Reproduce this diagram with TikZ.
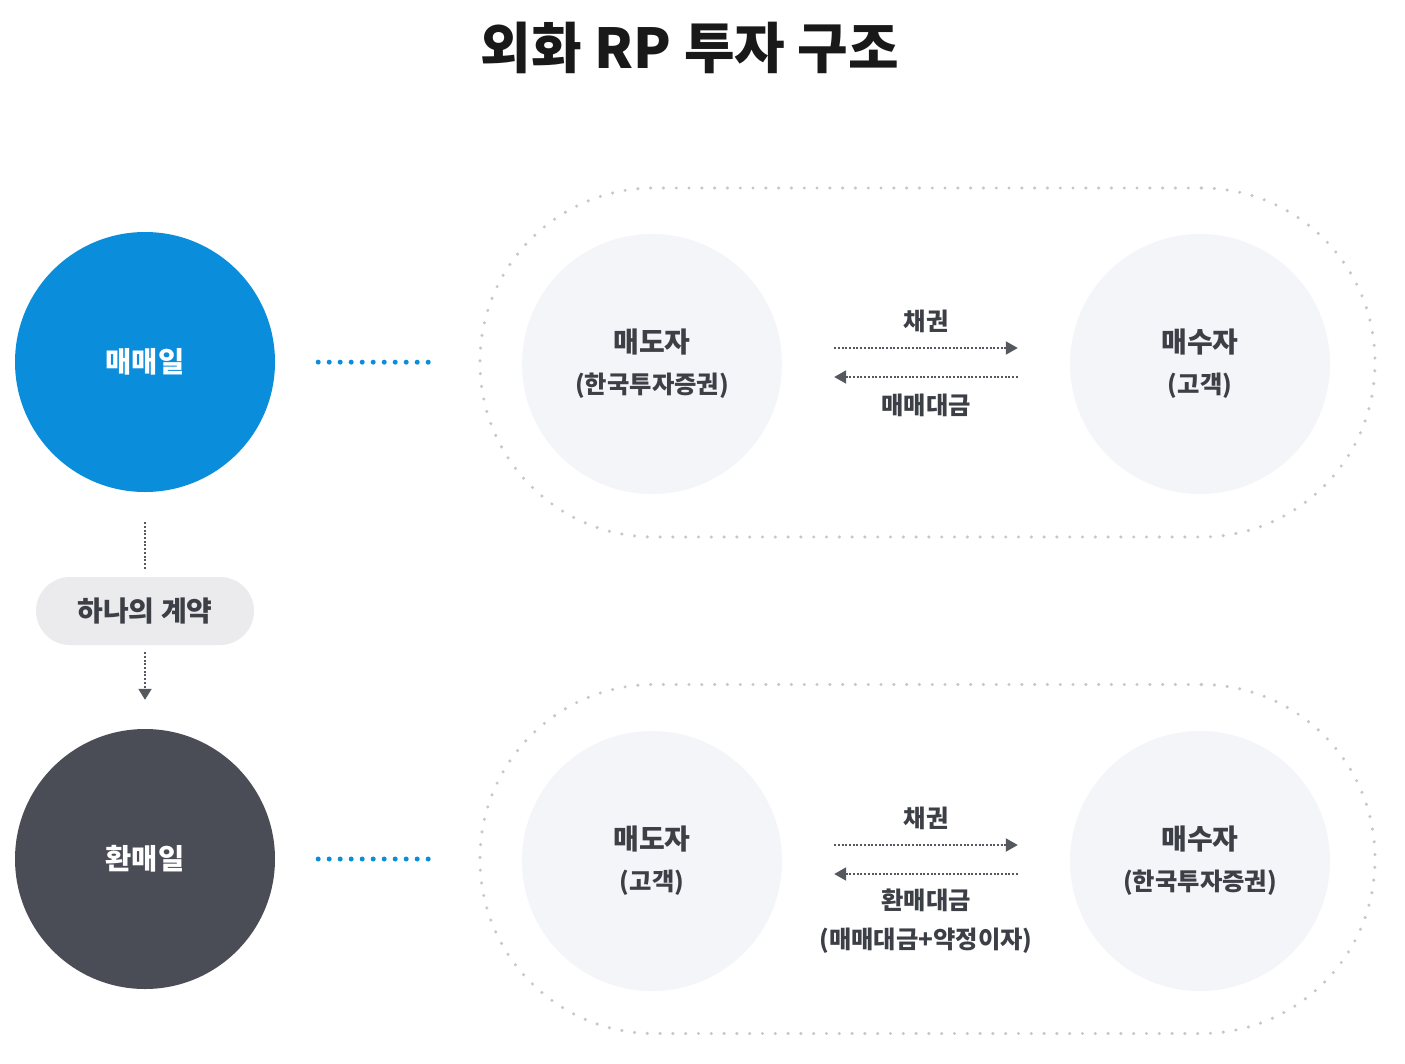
\documentclass[tikz,border=0pt]{standalone}
\usepackage{fontspec}
\setmainfont{Noto Sans CJK KR}
\usetikzlibrary{arrows.meta}

\definecolor{dayblue}{HTML}{0A8EDC}
\definecolor{daydark}{HTML}{4A4D56}
\definecolor{partyfill}{HTML}{F4F5F9}
\definecolor{pillfill}{HTML}{EBEBEE}
\definecolor{inkgray}{HTML}{3D3F46}
\definecolor{dotgray}{HTML}{C6C7CB}
\definecolor{flowgray}{HTML}{55585F}

\newcommand\subsize{\fontsize{24.3}{39}\selectfont}

\begin{document}
\begin{tikzpicture}[x=1pt,y=-1pt,
  every node/.style={font=\bfseries,text=inkgray},
  daycircle/.style={circle,minimum size=260pt,inner sep=0pt,text=white,
    font=\fontsize{28.5}{32}\selectfont\bfseries},
  party/.style={circle,fill=partyfill,minimum size=260pt,inner sep=0pt,
    align=center,font=\fontsize{28}{41}\selectfont\bfseries},
  subtext/.style={font=\subsize\bfseries},
  stadium/.style={draw=dotgray,rounded corners=174pt,minimum width=895pt,
    minimum height=349pt,line width=3.4pt,line cap=round,
    dash pattern=on 0pt off 12.8pt},
  bluedots/.style={draw=dayblue,line width=5pt,line cap=round,
    dash pattern=on 0pt off 11pt},
  flow/.style={draw=flowgray,line width=2pt,dash pattern=on 2pt off 1.7pt,
    shorten <=52pt,shorten >=52pt,
    -{Triangle[length=12pt,width=13pt,fill=flowgray]}},
  link/.style={draw=flowgray,line width=2pt,dash pattern=on 2pt off 1.7pt}]

  \fill[white] (0,0) rectangle (1405,1063);
  \useasboundingbox (0,0) rectangle (1405,1063);

  \node[font=\fontsize{55}{62}\selectfont\bfseries,text=black!90] (title)
    at (690,48) {외화 RP 투자 구조};

  % left column
  \node[daycircle,fill=dayblue] (trade) at (145,362) {매매일};
  \node[daycircle,fill=daydark] (redeem) at (145,859) {환매일};
  \node[fill=pillfill,rounded corners=34pt,minimum width=218pt,
    minimum height=68pt,font=\fontsize{28}{32}\selectfont\bfseries]
    (contract) at (145,611) {하나의 계약};
  \draw[link,shorten <=30pt,shorten >=7pt] (trade) -- (contract);
  \draw[link,shorten <=7pt,shorten >=29pt,
    -{Triangle[length=11pt,width=13pt,fill=flowgray]}] (contract) -- (redeem);

  % trade day
  \node[stadium] (round1) at (927.5,362.5) {};
  \node[party] (seller1) at (652,364) {매도자\\{\subsize (한국투자증권)}};
  \node[party] (buyer1) at (1200,364) {매수자\\{\subsize (고객)}};
  \draw[bluedots,shorten <=43pt,shorten >=45pt] (trade) -- (round1);
  \draw[flow] ([yshift=16pt]seller1.east) -- ([yshift=16pt]buyer1.west)
    node[midway,yshift=27pt,subtext] {채권};
  \draw[flow] ([yshift=-13pt]buyer1.west) -- ([yshift=-13pt]seller1.east)
    node[midway,yshift=-28pt,subtext] {매매대금};

  % redemption day
  \node[stadium] (round2) at (927.5,859) {};
  \node[party] (seller2) at (652,861) {매도자\\{\subsize (고객)}};
  \node[party] (buyer2) at (1200,861) {매수자\\{\subsize (한국투자증권)}};
  \draw[bluedots,shorten <=43pt,shorten >=45pt] (redeem) -- (round2);
  \draw[flow] ([yshift=16pt]seller2.east) -- ([yshift=16pt]buyer2.west)
    node[midway,yshift=27pt,subtext] {채권};
  \draw[flow] ([yshift=-13pt]buyer2.west) -- ([yshift=-13pt]seller2.east)
    node[midway,yshift=-47.5pt,subtext,align=center]
    {환매대금\\(매매대금+약정이자)};
\end{tikzpicture}
\end{document}
